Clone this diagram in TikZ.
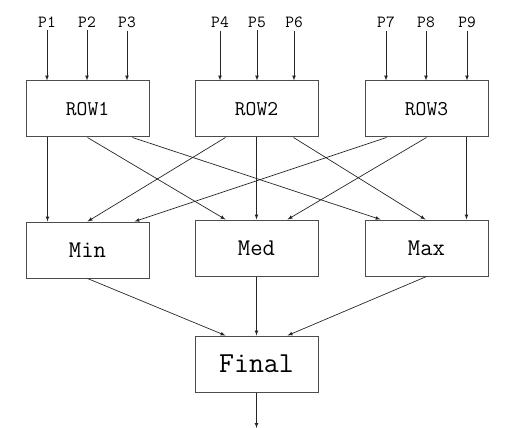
\documentclass[tikz,border=0pt]{standalone}
\usetikzlibrary{arrows}
\begin{document}
\begin{tikzpicture}[x=1pt, y=-1pt, >=latex,
    inp/.style={inner sep=3pt, font=\ttfamily\fontsize{17}{17}\selectfont},
    blk/.style={draw=black!70, line width=1pt, minimum width=123pt, minimum height=56pt,
      inner sep=0pt, font=\ttfamily\fontsize{21}{21}\selectfont},
    lnk/.style={->, draw=black!85, line width=0.7pt}]
      \useasboundingbox (0,0) rectangle (515,428);

      \node[blk] (row1) at (87.5,109) {ROW1};
      \node[blk] (row2) at (256.5,109) {ROW2};
      \node[blk] (row3) at (426.5,109) {ROW3};

      \node[blk, font=\ttfamily\fontsize{24}{24}\selectfont] (min) at (87.5,250) {Min};
      \node[blk, font=\ttfamily\fontsize{24}{24}\selectfont] (med) at (256.5,248) {Med};
      \node[blk, font=\ttfamily\fontsize{24}{24}\selectfont] (max) at (426.5,248) {Max};

      \node[blk, font=\ttfamily\fontsize{29}{29}\selectfont] (final) at (256.5,364) {Final};
      \coordinate (out) at (256.5,428);

      \foreach \x/\r [count=\i] in {47/1, 87/1, 127/1, 220/2, 257/2, 294/2, 386/3, 426/3, 467/3} {
        \node[inp] (p\i) at (\x,22) {P\i};
        \draw[lnk] (p\i) -- (p\i |- row\r.north);
      }

      \foreach \src/\a/\dst/\b in {row1/-40/min/-40, row1/0/med/-31, row1/45/max/-46,
                                   row2/-31/min/0, row2/0/med/0, row2/37/max/-1,
                                   row3/-40/min/47, row3/0/med/31, row3/40/max/40}
        \draw[lnk] ([xshift=\a pt]\src.south) -- ([xshift=\b pt]\dst.north);

      \draw[lnk] (min.south) -- ([xshift=-31pt]final.north);
      \draw[lnk] (med.south) -- (final.north);
      \draw[lnk] (max.south) -- ([xshift=31pt]final.north);
      \draw[lnk] (final.south) -- (out);
    \end{tikzpicture}
\end{document}
